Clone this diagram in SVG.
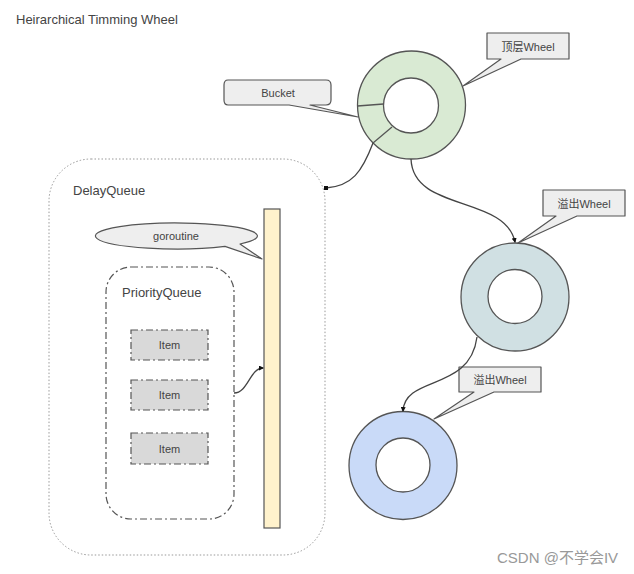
<svg xmlns="http://www.w3.org/2000/svg" width="634" height="574" viewBox="0 0 634 574">
<defs>
<style>
text{font-family:"Liberation Sans","Noto Sans CJK SC",Arial,sans-serif;fill:#444}
.t{font-size:13px}
.s{font-size:11px}
.call{fill:#eeeeee;stroke:#555;stroke-width:1.2}
.ring{stroke:#555;stroke-width:1.3}
.conn{fill:none;stroke:#444;stroke-width:1.3}
.dd{stroke:#555;stroke-width:1.2;stroke-dasharray:7 3 2 3}
</style>
<marker id="sq" markerWidth="4" markerHeight="4" refX="2" refY="2" markerUnits="userSpaceOnUse"><rect width="4" height="4" fill="#111"/></marker>
<marker id="ar" markerWidth="5" markerHeight="5" refX="4" refY="2.5" orient="auto" markerUnits="userSpaceOnUse"><path d="M0,0 L5,2.5 L0,5 z" fill="#111"/></marker>
</defs>
<rect width="634" height="574" fill="#fff"/>
<text x="16" y="24" class="t">Heirarchical Timming Wheel</text>

<g id="delayqueue">
<rect x="49" y="159" width="276" height="396" rx="42" fill="none" stroke="#999" stroke-width="1" stroke-dasharray="1.5 2"/>
<text x="73" y="195" class="t">DelayQueue</text>
</g>
<g id="bar">
<rect x="264" y="209" width="16" height="319" fill="#fff2cc" stroke="#555" stroke-width="1.2"/>
</g>
<g id="goroutine">
<path class="call" d="M240,244 L262,259 L225,246.35 A81,13 0 1 1 240,244 Z" stroke-linejoin="round"/>
<text x="176" y="240" class="s" text-anchor="middle">goroutine</text>
</g>
<g id="priorityqueue">
<rect x="106" y="267" width="128" height="252" rx="25" fill="none" class="dd"/>
<text x="122" y="297" class="t">PriorityQueue</text>
</g>
<g id="item1"><rect x="131" y="330" width="77" height="30" fill="#d9d9d9" class="dd"/><text x="169.5" y="349" class="s" text-anchor="middle">Item</text></g>
<g id="item2"><rect x="131" y="380" width="77" height="30" fill="#d9d9d9" class="dd"/><text x="169.5" y="399" class="s" text-anchor="middle">Item</text></g>
<g id="item3"><rect x="131" y="433" width="77" height="31" fill="#d9d9d9" class="dd"/><text x="169.5" y="453" class="s" text-anchor="middle">Item</text></g>

<g id="wheel1">
<circle cx="411.5" cy="105" r="54" fill="#d9ead3" class="ring"/>
<circle cx="411" cy="105.5" r="27.5" fill="#fff" class="ring"/>
<line x1="357.5" y1="106" x2="383.5" y2="104" class="ring"/>
<line x1="373" y1="143" x2="392" y2="127" class="ring"/>
</g>
<g id="wheel2">
<circle cx="515" cy="297" r="54" fill="#d0e0e3" class="ring"/>
<circle cx="515" cy="296.5" r="27" fill="#fff" class="ring"/>
</g>
<g id="wheel3">
<circle cx="403" cy="465.5" r="54" fill="#c9daf8" class="ring"/>
<circle cx="403" cy="465" r="27" fill="#fff" class="ring"/>
</g>

<g id="bucket">
<path class="call" d="M228,80 L326,80 Q331,80 331,85 L331,100 Q331,105 326,105 L310,105 L358,117 L289,105 L228,105 Q224,105 224,100 L224,85 Q224,80 228,80 Z" stroke-linejoin="round"/>
<text x="278" y="96.5" class="s" text-anchor="middle">Bucket</text>
</g>
<g id="label-top">
<path class="call" d="M487,33 L569,33 L569,59 L521,59 L463,86 L501,59 L487,59 Z" stroke-linejoin="round"/>
<text x="528" y="50.5" class="s" text-anchor="middle">顶层Wheel</text>
</g>
<g id="label-ov1">
<path class="call" d="M543,190 L625,190 L625,216 L577,216 L518,243 L556,216 L543,216 Z" stroke-linejoin="round"/>
<text x="584" y="207.5" class="s" text-anchor="middle">溢出Wheel</text>
</g>
<g id="label-ov2">
<path class="call" d="M459,367 L541,367 L541,392 L494,392 L434,419 L474,392 L459,392 Z" stroke-linejoin="round"/>
<text x="500" y="384" class="s" text-anchor="middle">溢出Wheel</text>
</g>

<g id="connectors">
<path class="conn" d="M373,143 C362,172 352,186 326,188" marker-end="url(#sq)"/>
<path class="conn" d="M411,159 C413,212 505,195 515,242" marker-end="url(#ar)"/>
<path class="conn" d="M477,337 C470,392 405,375 403,411" marker-end="url(#ar)"/>
<path class="conn" d="M234,393 C248,393 250,368 263,368" marker-end="url(#ar)"/>
</g>
<text x="497" y="563" font-size="15" style="fill:#999">CSDN @不学会IV</text>
</svg>
